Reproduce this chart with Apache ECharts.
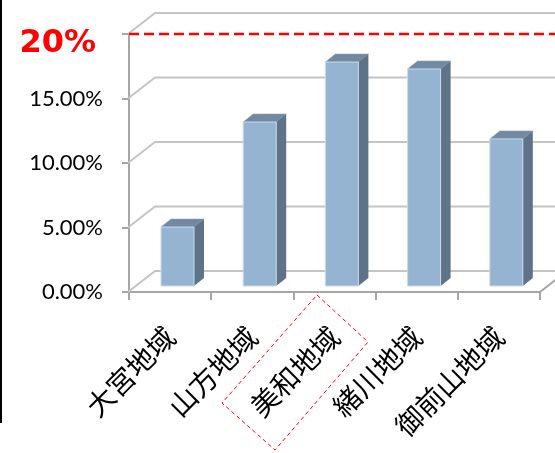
<!DOCTYPE html>
<html>
<head>
<meta charset="utf-8">
<script src="https://cdn.jsdelivr.net/npm/echarts@6/dist/echarts.min.js"></script>
<style>
html,body{margin:0;padding:0;background:#fff;}
#c{width:555px;height:453px;}
</style>
</head>
<body>
<div id="c"></div>
<script>
// ---- data ----
const categories = ['大宮地域', '山方地域', '美和地域', '緒川地域', '御前山地域'];
const values = [4.57, 12.71, 17.36, 16.82, 11.40];
const yTicks = [0, 5, 10, 15, 20];
const targetValue = 20;
const highlightCategory = '美和地域';

const chart = echarts.init(document.getElementById('c'), null, {renderer: 'canvas'});

function renderGridLine(params, api) {
  const v = api.value(1);
  const p = api.coord([0, v]);
  const x0 = params.coordSys.x;
  const y = p[1];
  const children = [{
    type: 'polyline',
    shape: {points: [[x0 - 1, y], [x0 + 26, y - 21], [api.getWidth(), y - 21]]},
    style: {stroke: '#c4c4c4', lineWidth: 2, fill: null}
  }];
  if (v === 0) {
    const xr = params.coordSys.x + params.coordSys.width;
    children.push({
      type: 'line',
      shape: {x1: xr, y1: y, x2: xr + 16, y2: y - 12.5},
      style: {stroke: '#a6a6a6', lineWidth: 2}
    });
  }
  return {type: 'group', children: children};
}

function renderBar(params, api) {
  const i = api.value(0), v = api.value(1);
  const top = api.coord([i, v]);
  const base = api.coord([i, 0]);
  const ox = 7.4, oy = -6, w = 33, dx = 10, dy = -8;
  const xl = top[0] + ox - w / 2, xr = xl + w;
  const yt = top[1] + oy, yb = base[1] + oy;
  return {
    type: 'group',
    children: [
      {type: 'polygon', shape: {points: [[xl, yt], [xr, yt], [xr + dx, yt + dy], [xl + dx, yt + dy]]},
        style: {fill: '#7189a3', stroke: '#8aa0b8', lineWidth: 0.6}},
      {type: 'polygon', shape: {points: [[xr, yt], [xr + dx, yt + dy], [xr + dx, yb + dy], [xr, yb]]},
        style: {fill: '#5e7387'}},
      {type: 'rect', shape: {x: xl, y: yt, width: w, height: yb - yt},
        style: {fill: '#95b4d1', stroke: '#c9d9e8', lineWidth: 1}}
    ]
  };
}

function renderTarget(params, api) {
  const p = api.coord([0, api.value(1)]);
  const x0 = params.coordSys.x;
  return {
    type: 'line',
    shape: {x1: x0, y1: p[1], x2: api.getWidth(), y2: p[1]},
    style: {stroke: '#ff0000', lineWidth: 2.5, lineDash: [10, 5]}
  };
}

chart.setOption({
  animation: false,
  grid: {left: 129, right: 15, top: 34, bottom: 161, containLabel: false},
  xAxis: {
    type: 'category',
    data: categories,
    boundaryGap: true,
    axisLine: {show: true, lineStyle: {color: '#a6a6a6', width: 2}},
    axisTick: {show: true, length: 8, lineStyle: {color: '#a6a6a6', width: 2}},
    axisLabel: {
      interval: 0, rotate: 45, margin: 40,
      fontFamily: 'Noto Sans CJK JP', fontSize: 28, color: '#000'
    },
    splitLine: {show: false}
  },
  yAxis: {
    type: 'value',
    min: 0, max: 20, interval: 5,
    axisLine: {show: true, lineStyle: {color: '#a6a6a6', width: 2}},
    axisTick: {show: true, length: 7, lineStyle: {color: '#a6a6a6', width: 2}},
    splitLine: {show: false},
    axisLabel: {
      margin: 26,
      fontFamily: 'Lato', fontSize: 22, color: '#000',
      formatter: function (v) {
        return v === targetValue ? '{r|' + v + '%}' : v.toFixed(2) + '%';
      },
      rich: {
        r: {fontFamily: 'DejaVu Sans', fontWeight: 'bold', fontSize: 32, color: '#ff0000', padding: [20, 7, 0, 0]}
      }
    }
  },
  series: [
    {type: 'custom', renderItem: renderGridLine, data: yTicks.map(v => [0, v]), z: 1, silent: true},
    {type: 'custom', renderItem: renderBar, data: categories.map((c, i) => [i, values[i]]), z: 3},
    {type: 'custom', renderItem: renderTarget, data: [[0, targetValue]], z: 5, silent: true}
  ]
});

const hc = chart.convertToPixel({xAxisIndex: 0, yAxisIndex: 0}, [highlightCategory, 0]);
const cx = hc[0], ay = hc[1];
chart.setOption({
  graphic: [
    {type: 'line', shape: {x1: 1, y1: 0, x2: 1, y2: 423}, style: {stroke: '#000', lineWidth: 2}},
    {type: 'polygon', shape: {points: [[cx - 17.5, ay + 3], [cx + 33.5, ay + 50], [cx - 59.5, ay + 158], [cx - 112.5, ay + 111]]},
      style: {fill: null, stroke: '#ff0000', lineWidth: 1, lineDash: [4, 3]}}
  ]
});
</script>
</body>
</html>
